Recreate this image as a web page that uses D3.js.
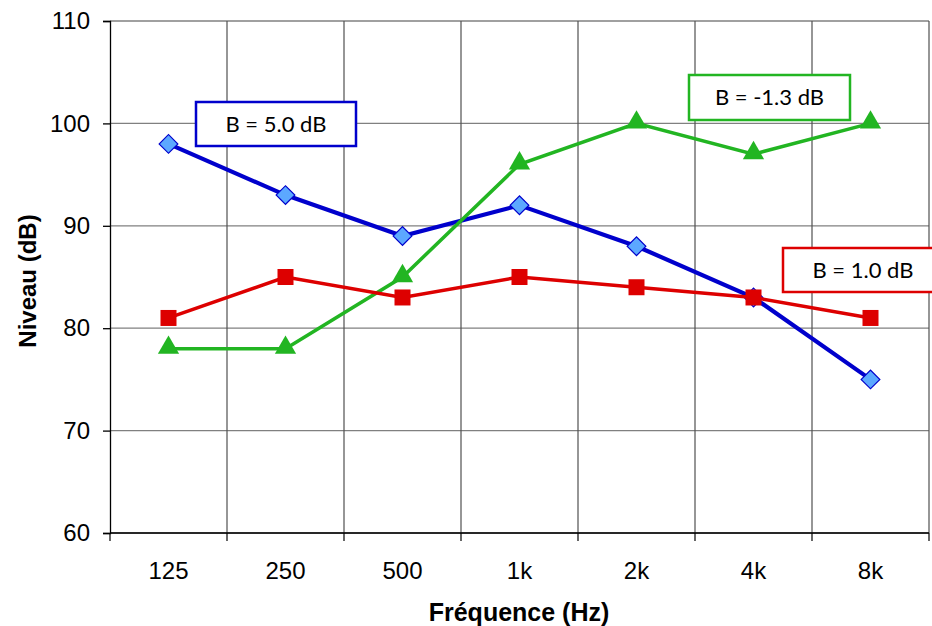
<!DOCTYPE html>
<html>
<head>
<meta charset="utf-8">
<script src="https://cdn.jsdelivr.net/npm/d3@7"></script>
<style>
  html, body { margin: 0; padding: 0; background: #fff; }
  svg { display: block; }
</style>
</head>
<body>
<svg id="chart" width="932" height="626"></svg>
<script>
// Octave-band frequencies and levels per series
const frequencies = ["125", "250", "500", "1k", "2k", "4k", "8k"];
const blueLevels  = [98, 93, 89, 92, 88, 83, 75];
const greenLevels = [78, 78, 85, 96, 100, 97, 100];
const redLevels   = [81, 85, 83, 85, 84, 83, 81];
const yTicks = [60, 70, 80, 90, 100, 110];
const annotations = [
  { text: "B = 5.0 dB",  color: "#0000cc", x: 196, y: 102, w: 160, h: 44 },
  { text: "B = -1.3 dB", color: "#22b522", x: 689, y: 75,  w: 161, h: 45 },
  { text: "B = 1.0 dB",  color: "#dd0000", x: 783, y: 248, w: 160, h: 44 }
];

const svg = d3.select("#chart");
const plotLeft = 110, plotRight = 929, plotTop = 21, plotBottom = 533;
const sans = "Liberation Sans, Arial, sans-serif";

const x = d3.scaleBand().domain(frequencies).range([plotLeft, plotRight]).padding(0);
const y = d3.scaleLinear().domain([60, 110]).range([plotBottom, plotTop]);
const cx = d => x(d) + x.bandwidth() / 2;

// horizontal grid
svg.append("g").selectAll("line").data(yTicks).join("line")
  .attr("x1", plotLeft).attr("x2", plotRight)
  .attr("y1", d => y(d)).attr("y2", d => y(d))
  .attr("stroke", "#808080").attr("stroke-width", 1.3);

// vertical grid at category boundaries
const bounds = frequencies.map(f => x(f)).concat([plotRight]);
svg.append("g").selectAll("line").data(bounds.slice(1)).join("line")
  .attr("x1", d => d).attr("x2", d => d)
  .attr("y1", plotTop).attr("y2", plotBottom)
  .attr("stroke", "#505050").attr("stroke-width", 1.2);

// y axis
const yAxis = svg.append("g").attr("transform", `translate(${plotLeft},0)`)
  .call(d3.axisLeft(y).tickValues(yTicks).tickSize(7).tickPadding(13));
yAxis.select(".domain").attr("stroke", "#000").attr("stroke-width", 1.3);
yAxis.selectAll(".tick line").attr("stroke", "#000").attr("stroke-width", 1.3);
yAxis.selectAll("text").attr("font-family", sans)
  .attr("font-size", 24).attr("fill", "#000");

// x axis: ticks at category boundaries, labels at centers
const xg = svg.append("g");
xg.append("line").attr("x1", plotLeft).attr("x2", plotRight).attr("y1", plotBottom).attr("y2", plotBottom)
  .attr("stroke", "#000").attr("stroke-width", 1.3);
xg.selectAll("line.tk").data(bounds).join("line").attr("class", "tk")
  .attr("x1", d => d).attr("x2", d => d).attr("y1", plotBottom).attr("y2", plotBottom + 8)
  .attr("stroke", "#000").attr("stroke-width", 1.2);
xg.selectAll("text").data(frequencies).join("text")
  .attr("x", d => cx(d)).attr("y", 579)
  .attr("text-anchor", "middle")
  .attr("font-family", sans)
  .attr("font-size", 24).text(d => d);

// axis titles
svg.append("text").attr("x", 519).attr("y", 621).attr("text-anchor", "middle")
  .attr("font-family", sans).attr("font-weight", "bold")
  .attr("font-size", 25).text("Fréquence (Hz)");
svg.append("text").attr("transform", "translate(36,281) rotate(-90)").attr("text-anchor", "middle")
  .attr("font-family", sans).attr("font-weight", "bold")
  .attr("font-size", 24).text("Niveau (dB)");

const line = d3.line().x((d, i) => cx(frequencies[i])).y(d => y(d));

// blue series with diamonds
svg.append("path").datum(blueLevels).attr("d", line)
  .attr("fill", "none").attr("stroke", "#0000cc").attr("stroke-width", 4.2);
svg.append("g").selectAll("path").data(blueLevels).join("path")
  .attr("d", d3.symbol().type(d3.symbolSquare).size(175))
  .attr("transform", (d, i) => `translate(${cx(frequencies[i])},${y(d)}) rotate(45)`)
  .attr("fill", "#5ca8ff").attr("stroke", "#0000cc").attr("stroke-width", 1.2);

// green series with triangles
svg.append("path").datum(greenLevels).attr("d", line)
  .attr("fill", "none").attr("stroke", "#22b522").attr("stroke-width", 3.5);
svg.append("g").selectAll("path").data(greenLevels).join("path")
  .attr("d", d3.symbol().type(d3.symbolTriangle).size(195))
  .attr("transform", (d, i) => `translate(${cx(frequencies[i])},${y(d) - 1})`)
  .attr("fill", "#22b522");

// red series with squares
svg.append("path").datum(redLevels).attr("d", line)
  .attr("fill", "none").attr("stroke", "#dd0000").attr("stroke-width", 3.5);
svg.append("g").selectAll("rect").data(redLevels).join("rect")
  .attr("x", (d, i) => cx(frequencies[i]) - 8).attr("y", d => y(d) - 8)
  .attr("width", 16).attr("height", 16).attr("fill", "#dd0000");

// annotation boxes
const ann = svg.append("g").selectAll("g").data(annotations).join("g");
ann.append("rect")
  .attr("x", d => d.x).attr("y", d => d.y).attr("width", d => d.w).attr("height", d => d.h)
  .attr("fill", "#fff").attr("stroke", d => d.color).attr("stroke-width", 2.5);
ann.append("text")
  .attr("x", d => d.x + d.w / 2).attr("y", d => d.y + d.h / 2 + 7.5)
  .attr("text-anchor", "middle")
  .attr("font-family", "Lato, 'Open Sans', sans-serif").attr("font-size", 22)
  .attr("fill", "#000").text(d => d.text);
</script>
</body>
</html>
